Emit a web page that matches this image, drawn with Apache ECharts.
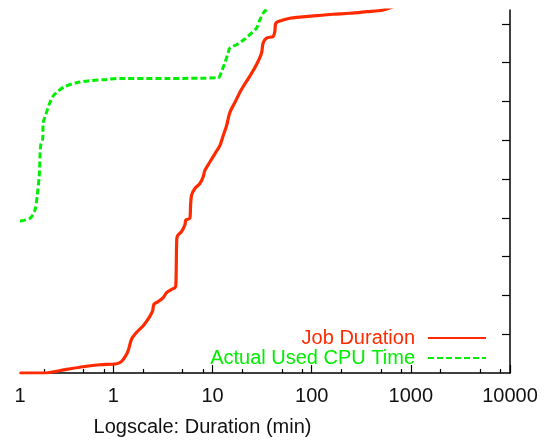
<!DOCTYPE html>
<html>
<head>
<meta charset="utf-8">
<script src="https://cdn.jsdelivr.net/npm/echarts@6/dist/echarts.min.js"></script>
<style>html,body{margin:0;padding:0;background:#fff;}#c{width:546px;height:442px;}</style>
</head>
<body>
<div id="c"></div>
<script>
// Job Duration CDF (duration in min, cumulative fraction)
const jobX = [0.1142,0.1947,0.3374,0.4928,0.731,1.077,1.21,1.337,1.41,1.526,1.713,1.997,2.296,2.485,2.561,2.829,3.177,3.438,3.862,4.169,4.267,4.336,4.397,4.87,5.259,5.381,5.905,6.001,6.143,6.632,7.447,8.04,8.364,9.394,10.55,11.85,12.79,13.84,14.94,16.78,19.6,23.77,27.77,31.19,32.36,35.03,40.83,42.46,43.46,49.6,60.15,75.86,111.8,164.3,242.2,356.8,524.7,1000,3000];
const jobY = [0,0,0.0095,0.0161,0.0212,0.0238,0.0299,0.0453,0.0581,0.0877,0.1049,0.122,0.1432,0.1604,0.1772,0.1841,0.1944,0.2072,0.2156,0.22,0.2284,0.3307,0.3522,0.3649,0.3818,0.3946,0.399,0.433,0.4586,0.4757,0.4885,0.5056,0.5225,0.544,0.5652,0.5864,0.612,0.6376,0.6719,0.6974,0.7315,0.7655,0.7954,0.8253,0.8509,0.8637,0.8678,0.8806,0.902,0.9092,0.9148,0.9174,0.9215,0.9251,0.9276,0.9317,0.936,0.96,0.98];
// Actual Used CPU Time CDF
const cpuX = [0.1142,0.144,0.1617,0.1705,0.1786,0.1845,0.1933,0.196,0.2087,0.2253,0.2471,0.2777,0.3244,0.4256,0.5796,0.854,1.163,3.712,11.39,12.32,13.3,14.37,14.94,17.46,21.17,24.73,27.77,29.98,32.36,34.45,40];
const cpuY = [0.392,0.399,0.4202,0.4586,0.5097,0.5864,0.6036,0.6463,0.6675,0.6931,0.7143,0.7271,0.7384,0.7486,0.7537,0.757,0.7596,0.7596,0.7614,0.7783,0.7997,0.8253,0.8381,0.8465,0.8611,0.8765,0.8893,0.9105,0.9276,0.936,0.96];
const xMajor = [0.1142,1,10,100,1000,10000];
const xMinor = [0.2,0.5,0.8,2,5,8,20,50,80,200,500,800,2000,5000,8000];
const yTicks = [0.1,0.2,0.3,0.4,0.5,0.6,0.7,0.8,0.9];
const seriesNames = ['Job Duration','Actual Used CPU Time'];
const colors = ['#ff2a00','#00ee00'];

const zip = (a,b) => a.map((v,i)=>[v,b[i]]);
const chart = echarts.init(document.getElementById('c'), null, {renderer:'canvas'});
const font = 'Liberation Sans, Arial, Helvetica, sans-serif';
chart.setOption({
  animation:false,
  backgroundColor:'#fff',
  grid:{left:20,right:36,top:10,bottom:66,containLabel:false},
  legend:{
    orient:'vertical', align:'right', right:54, top:323, itemGap:0,
    itemWidth:58, itemHeight:20, selectedMode:false,
    itemStyle:{opacity:0},
    textStyle:{fontFamily:font,fontSize:20,lineHeight:20,padding:[0,8,0,0]},
    data:[
      {name:seriesNames[0],textStyle:{color:colors[0]}},
      {name:seriesNames[1],textStyle:{color:colors[1]}}
    ]
  },
  xAxis:[{
    type:'log', min:0.1142, max:10000, logBase:10,
    name:'Logscale: Duration (min)', nameLocation:'middle', nameGap:44,
    nameTextStyle:{fontFamily:font,fontSize:20,color:'#111',padding:[0,125,0,0]},
    axisLine:{show:true,lineStyle:{color:'#000',width:1.5}},
    axisTick:{show:true,inside:true,length:8,lineStyle:{color:'#000',width:1.2},customValues:xMajor.slice(1)},
    axisLabel:{fontFamily:font,fontSize:20,color:'#111',margin:13,customValues:xMajor,
      formatter:v=> v < 0.5 ? '1' : String(Math.round(v))},
    splitLine:{show:false}, minorTick:{show:false}
  },{
    type:'log', min:0.1142, max:10000, logBase:10, position:'bottom',
    axisLine:{show:false},
    axisTick:{show:true,inside:true,length:4,lineStyle:{color:'#000',width:1.2},customValues:xMinor},
    axisLabel:{show:false}, splitLine:{show:false}
  }],
  yAxis:{
    type:'value', position:'right', min:0, max:0.936,
    axisLine:{show:true,lineStyle:{color:'#000',width:1.5}},
    axisTick:{show:true,inside:true,length:8,lineStyle:{color:'#000',width:1.2},customValues:yTicks},
    axisLabel:{show:false}, splitLine:{show:false}
  },
  series:[
    {name:seriesNames[0],type:'line',data:zip(jobX,jobY),showSymbol:false,symbol:'none',
     smooth:0.3,clip:true,color:colors[0],lineStyle:{color:colors[0],width:3.2},z:3},
    {name:seriesNames[1],type:'line',data:zip(cpuX,cpuY),showSymbol:false,symbol:'none',
     smooth:0.3,clip:true,color:colors[1],lineStyle:{color:colors[1],width:3,type:[6,3]},z:2}
  ]
});
</script>
</body>
</html>
